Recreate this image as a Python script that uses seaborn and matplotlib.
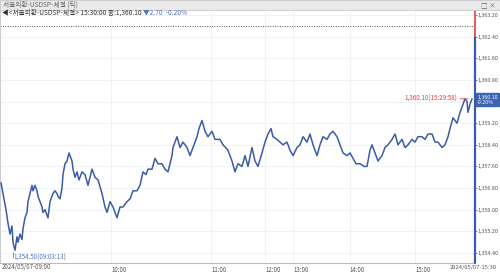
import matplotlib
matplotlib.use("Agg")
import matplotlib.pyplot as plt
import seaborn as sns
import pandas as pd
from matplotlib.patches import Rectangle

# ---------------- data ----------------
tick_seq = [1, 3, 6, 8, 10, 12, 13, 15, 17, 18, 20, 22, 23, 25, 27, 28, 30, 32, 33, 35,
            37, 38, 42, 43, 45, 48, 50, 53, 55, 57, 58, 60, 62, 63, 65, 67, 69, 72, 73, 75,
            77, 79, 82, 85, 88, 92, 95, 98, 102, 105, 107, 110, 113, 117, 120, 123, 127, 130, 133, 137,
            140, 143, 146, 148, 152, 155, 158, 162, 165, 168, 172, 173, 177, 180, 183, 187, 190, 193, 197, 199,
            202, 205, 208, 212, 215, 218, 220, 223, 228, 232, 235, 238, 242, 245, 248, 252, 255, 258, 262, 265,
            268, 271, 273, 277, 280, 283, 287, 290, 293, 297, 300, 303, 307, 310, 313, 317, 320, 323, 327, 330,
            333, 337, 340, 343, 347, 350, 353, 356, 360, 364, 367, 370, 372, 375, 378, 382, 385, 388, 392, 395,
            398, 402, 405, 408, 412, 415, 418, 422, 425, 428, 432, 435, 438, 442, 445, 448, 450, 453, 457, 460,
            463, 465, 467, 468, 470, 472]
price = [1357.0, 1356.6, 1356.0, 1355.5, 1355.1, 1355.4, 1354.8, 1354.5, 1355.0, 1354.8,
         1355.1, 1354.9, 1355.3, 1355.7, 1355.9, 1356.3, 1356.6, 1356.9, 1356.7, 1356.9,
         1356.7, 1356.5, 1356.1, 1355.9, 1356.0, 1355.7, 1356.3, 1356.6, 1356.7, 1356.6,
         1356.5, 1356.4, 1356.8, 1357.3, 1357.7, 1357.8, 1358.1, 1357.8, 1357.5, 1357.2,
         1357.4, 1357.1, 1357.4, 1357.3, 1356.9, 1357.5, 1357.2, 1357.1, 1356.6, 1356.1,
         1355.9, 1356.3, 1356.1, 1355.7, 1356.1, 1356.1, 1356.3, 1356.4, 1356.7, 1356.7,
         1356.9, 1357.4, 1357.3, 1357.5, 1357.5, 1357.9, 1357.7, 1357.7, 1357.5, 1357.4,
         1358.0, 1358.3, 1358.7, 1358.3, 1358.5, 1358.3, 1358.0, 1358.3, 1358.7, 1359.0,
         1359.3, 1358.9, 1358.7, 1358.9, 1358.6, 1358.6, 1358.6, 1358.4, 1358.2, 1357.8,
         1357.4, 1357.7, 1357.6, 1358.0, 1357.6, 1358.3, 1357.8, 1357.6, 1358.1, 1358.5,
         1358.8, 1359.0, 1358.7, 1358.6, 1358.5, 1358.4, 1358.5, 1358.2, 1358.0, 1358.3,
         1358.4, 1358.7, 1358.5, 1358.8, 1358.4, 1358.0, 1358.4, 1358.7, 1358.6, 1358.8,
         1358.9, 1358.7, 1358.4, 1358.1, 1358.0, 1358.1, 1357.9, 1357.7, 1357.7, 1357.6,
         1357.6, 1358.2, 1358.4, 1358.1, 1357.8, 1358.0, 1358.3, 1358.4, 1358.6, 1358.8,
         1358.4, 1358.6, 1358.3, 1358.4, 1358.6, 1358.5, 1358.7, 1358.7, 1358.6, 1358.8,
         1358.8, 1358.5, 1358.5, 1358.3, 1358.4, 1358.7, 1359.0, 1359.4, 1359.2, 1359.6,
         1359.9, 1360.1, 1360.0, 1359.6, 1359.9, 1360.1]

time_tick_pos = [111, 211, 265, 293, 350, 415]
time_tick_labels = ["10:00", "11:00", "12:00", "13:00", "14:00", "15:00"]
first_label = "2024/05/07-09:00"
last_label = "2024/05/07-15:30"

y_ticks = [1354.40, 1355.20, 1356.00, 1356.80, 1357.60, 1358.40, 1359.20, 1360.00,
           1360.80, 1361.60, 1362.40, 1363.20]
prev_close = 1362.80
last_price = 1360.10
change = -2.70
change_pct = -0.20
low_price = 1354.50
low_time = "09:03:13"
low_seq = 15
last_time = "15:29:58"
last_seq = 472

x_min, x_max = 0, 475
y_min, y_max = 1354.03, 1363.385

title = "서울외환-USDSP-체결 (틱)"
info_main = "◀<서울외환-USDSP-체결> 15:30:00 종:1,360.10 "
info_chg = "▼2.70  -0.20%"

# ---------------- style ----------------
sns.set_theme(style="white")
plt.rcParams['font.family'] = ['Noto Sans CJK KR', 'DejaVu Sans']
plt.rcParams['axes.unicode_minus'] = False

LINE = "#3a5ca8"
GRID = "#edf0f5"
TXT = "#555555"
BLUE_TXT = "#4f73c0"
RED = "#e0413a"

W, H = 500, 273
fig = plt.figure(figsize=(W / 100, H / 100), dpi=100)
fig.patch.set_facecolor("white")

ax = fig.add_axes([0 / W, (H - 263) / H, 475 / W, (263 - 10) / H])
ax.set_facecolor("white")

df = pd.DataFrame({"seq": tick_seq, "price": price})
sns.lineplot(data=df, x="seq", y="price", ax=ax, color=LINE, linewidth=1.1,
             estimator=None, sort=False, zorder=3)

ax.set_xlim(x_min, x_max)
ax.set_ylim(y_min, y_max)
ax.set_xlabel("")
ax.set_ylabel("")

# grid
for yt in y_ticks:
    ax.axhline(yt, color=GRID, linewidth=0.6, zorder=0)
for xt in time_tick_pos:
    ax.axvline(xt, color=GRID, linewidth=0.6, zorder=0)

# previous close dotted line
ax.axhline(prev_close, color="#555555", linewidth=0.7, linestyle=(0, (1, 1.5)), zorder=2)

# spines
for s in ["top", "right"]:
    ax.spines[s].set_visible(False)
ax.spines["left"].set_color("#cccccc")
ax.spines["left"].set_linewidth(0.8)
ax.spines["bottom"].set_color("#bbbbbb")
ax.spines["bottom"].set_linewidth(0.8)

# right edge coloured line
split = (1362.4 - y_min) / (y_max - y_min)
ax.axvline(x_max, ymin=0, ymax=split, color=LINE, linewidth=1.6, zorder=4, clip_on=False)
ax.axvline(x_max, ymin=split, ymax=1, color=RED, linewidth=1.2, zorder=4, clip_on=False)

# y ticks on right (the 1,360.00 label sits under the last-price box)
ax.yaxis.tick_right()
ax.set_yticks(y_ticks)
ax.set_yticklabels(["" if abs(v - 1360.0) < 1e-9 else f"{v:,.2f}" for v in y_ticks])
ax.tick_params(axis="y", labelsize=3.9, colors=TXT, length=1.2, width=0.5, pad=0.8)

# x ticks
ax.set_xticks(time_tick_pos)
ax.set_xticklabels(time_tick_labels)
for lbl in ax.get_xticklabels():
    lbl.set_ha("left")
ax.tick_params(axis="x", labelsize=4.4, colors=TXT, length=1.5, width=0.5, pad=0.3,
               direction="out")

fig.text(2 / W, (H - 267.5) / H, first_label, fontsize=4.4, color=TXT, ha="left", va="center")
fig.text(497 / W, (H - 267.5) / H, last_label, fontsize=4.2, color=TXT, ha="right", va="center")

# low annotation
ax.annotate(f"{low_price:,.2f}({low_time})", xy=(low_seq, low_price),
            xytext=(-1, -5), textcoords="offset points", fontsize=4.5, color=BLUE_TXT,
            ha="left", va="center", zorder=5)
ax.plot([low_seq - 2, low_seq - 2], [low_price - 0.05, low_price - 0.25], color=BLUE_TXT,
        linewidth=0.6, zorder=5)

# last price annotation (red)
ax.annotate(f"{last_price:,.2f}({last_time})", xy=(last_seq - 4, last_price),
            xytext=(-8, 0), textcoords="offset points", fontsize=4.5, color=RED,
            ha="right", va="center", zorder=5,
            arrowprops=dict(arrowstyle="-", color=RED, linewidth=0.6, shrinkA=0, shrinkB=0))

# last price box on right axis
ax.annotate(f"{last_price:,.2f}\n{change_pct:.2f}%", xy=(1.0, last_price),
            xycoords=("axes fraction", "data"), xytext=(1.6, -0.5), textcoords="offset points",
            fontsize=3.8, color="white", ha="left", va="center", linespacing=1.0,
            annotation_clip=False, zorder=6,
            bbox=dict(boxstyle="square,pad=0.2", fc="#3d63b3", ec="#3d63b3"))

# header bar
fig.patches.append(Rectangle((0, (H - 10) / H), 1, 10 / H, transform=fig.transFigure,
                             facecolor="#e9e9e9", edgecolor="#c8c8c8", linewidth=0.6, zorder=10))
fig.text(3 / W, (H - 5) / H, title, fontsize=4.8, color="#666666", ha="left", va="center",
         zorder=11)
fig.text(496 / W, (H - 5) / H, "□ ×", fontsize=4.8, color="#666666", ha="right",
         va="center", zorder=11)

# info line
t1 = fig.text(2 / W, (H - 13) / H, info_main, fontsize=4.8, color="#333333", ha="left",
              va="center", zorder=11)
fig.canvas.draw()
bb = t1.get_window_extent()
fig.text(bb.x1 / W, (H - 13) / H, info_chg, fontsize=4.8, color=BLUE_TXT, ha="left",
         va="center", zorder=11)

fig.savefig("out.png", dpi=100, facecolor="white")
